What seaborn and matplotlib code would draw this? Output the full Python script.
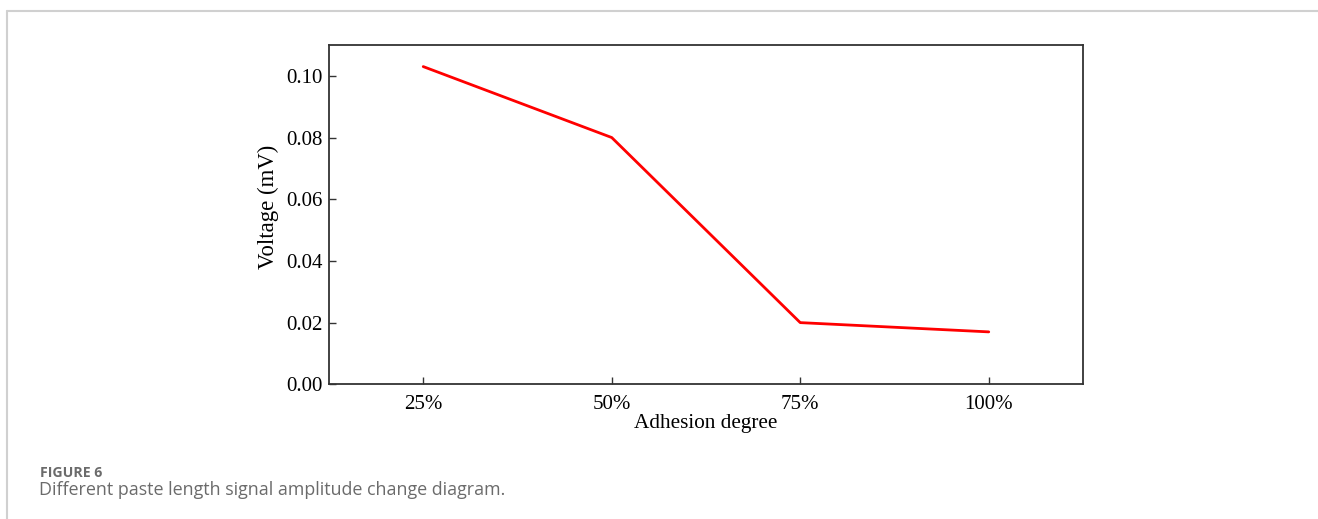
import matplotlib
matplotlib.use("Agg")
import matplotlib.pyplot as plt
import seaborn as sns
import pandas as pd
from matplotlib.lines import Line2D

categories = ["25%", "50%", "75%", "100%"]
voltage = [0.103, 0.080, 0.020, 0.017]
yticks = [0.00, 0.02, 0.04, 0.06, 0.08, 0.10]

sns.set_theme(style="ticks")
plt.rcParams["font.family"] = ["Liberation Serif", "DejaVu Serif"]

df = pd.DataFrame({"Adhesion degree": categories, "Voltage": voltage})

fig = plt.figure(figsize=(13.18, 5.19), dpi=100)
ax = fig.add_axes([0.2496, 0.2595, 0.5721, 0.6538])

sns.lineplot(data=df, x="Adhesion degree", y="Voltage", color="#ff0000",
             linewidth=2, ax=ax, sort=False)

ax.set_xlim(-0.5, 3.5)
ax.set_ylim(0, 0.11)
ax.set_yticks(yticks)
ax.set_yticklabels([f"{v:.2f}" for v in yticks])
ax.set_xticks(range(len(categories)))
ax.set_xticklabels(categories)
ax.tick_params(axis="both", direction="in", labelsize=15, length=5,
               width=1, color="#333333", labelcolor="black")
ax.tick_params(axis="y", pad=4.5)
ax.tick_params(axis="x", pad=8)
ax.set_xlabel("Adhesion degree", fontsize=15.3, labelpad=0, color="black")
ax.set_ylabel("Voltage (mV)", fontsize=16.4, labelpad=5.5, color="black")
ax.yaxis.label.set_y(0.524)
for s in ax.spines.values():
    s.set_color("#333333")
    s.set_linewidth(1.3)
    s.set_visible(True)

# outer frame lines
fig.add_artist(Line2D([7/1318, 1.0], [1 - 11/519, 1 - 11/519],
                      transform=fig.transFigure, color="#d0d0d0", linewidth=1.5))
fig.add_artist(Line2D([7/1318, 7/1318], [0, 1 - 11/519],
                      transform=fig.transFigure, color="#d0d0d0", linewidth=1.5))

cap_font = ["Open Sans", "DejaVu Sans"]
fig.text(40/1318, 1 - 477/519, "FIGURE 6", fontsize=10.2, fontweight="bold",
         color="#6b6b6b", family=cap_font, va="baseline", ha="left")
fig.text(39/1318, 1 - 495/519, "Different paste length signal amplitude change diagram.",
         fontsize=12.9, color="#6b6b6b", family=cap_font, va="baseline", ha="left")

fig.savefig("out.png", dpi=100)
